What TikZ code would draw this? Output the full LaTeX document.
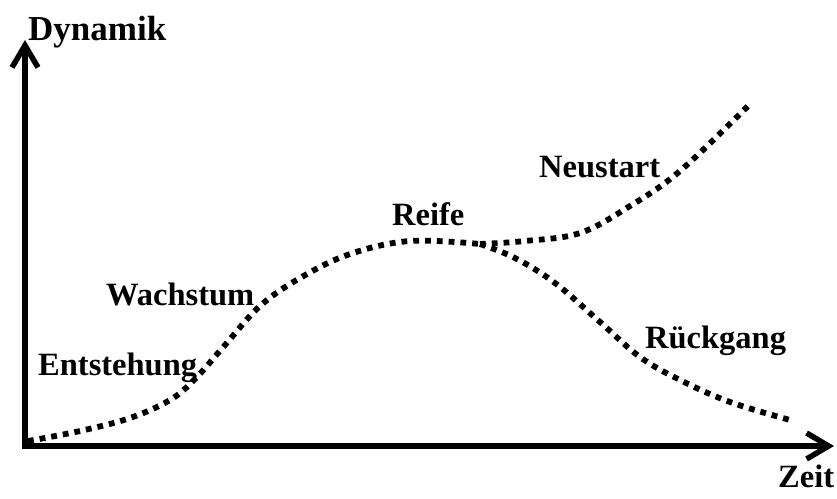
\documentclass[tikz,border=0pt]{standalone}
\usepackage{fontspec}
\setmainfont{Liberation Serif}
\usetikzlibrary{arrows.meta}
\begin{document}
\begin{tikzpicture}[x=1pt,y=-1pt,
  axis/.style={line width=5.5pt,-{Straight Barb[length=22pt,width=26pt]}},
  dotline/.style={line width=5.8pt,dash pattern=on 5.8pt off 6pt,line cap=butt},
  lbl/.style={anchor=base west,inner sep=0pt,font=\bfseries\fontsize{32.5}{38}\selectfont},
  ttl/.style={anchor=base west,inner sep=0pt,font=\bfseries\fontsize{35}{40}\selectfont}]
\useasboundingbox (0,0) rectangle (837,498);
\coordinate (O) at (25,446);
\coordinate (Ox) at (22.25,446);
\coordinate (ytip) at (25,40);
\coordinate (xtip) at (834,446);
\coordinate (split) at (480,244);
\draw[axis] (O) -- (ytip);
\draw[axis] (Ox) -- (xtip);
\draw[dotline] plot[smooth,tension=0.6] coordinates {(28,441) (80,431) (130,418) (170,400) (195,379) (225,345) (260,306) (300,278) (350,254) (410,241) (480,244)};
\draw[dotline] plot[smooth,tension=0.6] coordinates {(480,244) (525,241) (580,233) (630,206) (680,171) (750,104)};
\draw[dotline] plot[smooth,tension=0.6] coordinates {(480,244) (515,258) (555,283) (600,322) (640,357) (680,380) (730,402) (790,420)};
\node[ttl] (dyn) at (28,40) {Dynamik};
\node[lbl] (zeit) at (778,487) {Zeit};
\node[lbl] (ent) at (38,375) {Entstehung};
\node[lbl] (wach) at (106,305) {Wachstum};
\node[lbl] (reife) at (392,225) {Reife};
\node[lbl] (neu) at (539,177) {Neustart};
\node[lbl] (rueck) at (645,348) {Rückgang};
\end{tikzpicture}
\end{document}
